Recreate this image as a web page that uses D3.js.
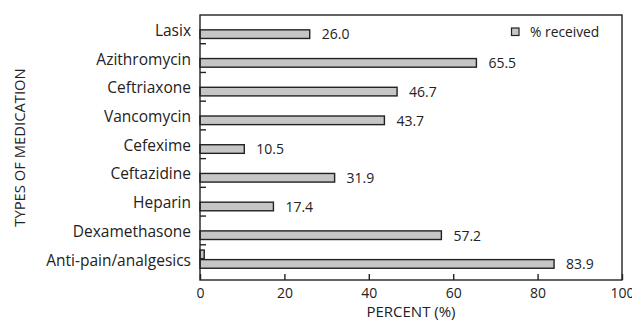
<!DOCTYPE html>
<html>
<head>
<meta charset="utf-8">
<script src="https://cdn.jsdelivr.net/npm/d3@7"></script>
<style>
  body { margin: 0; background: #fff; }
  text { font-family: "Open Sans", "Noto Sans", sans-serif; fill: #222; }
</style>
</head>
<body>
<svg id="chart" width="632" height="322"></svg>
<script>
// Data
const categories = ["Lasix", "Azithromycin", "Ceftriaxone", "Vancomycin", "Cefexime",
  "Ceftazidine", "Heparin", "Dexamethasone", "Anti-pain/analgesics"];
const receivedValues = [26.0, 65.5, 46.7, 43.7, 10.5, 31.9, 17.4, 57.2, 83.9];
const otherValues = [0, 0, 0, 0, 0, 0, 0, 0, 1.0];
const xTicks = [0, 20, 40, 60, 80, 100];
const seriesKeys = ["other", "received"];

const svg = d3.select("#chart"),
      margin = { top: 15, right: 10, bottom: 42, left: 200 },
      width = +svg.attr("width") - margin.left - margin.right,
      height = +svg.attr("height") - margin.top - margin.bottom;

const g = svg.append("g").attr("transform", `translate(${margin.left},${margin.top})`);

const rows = categories.map((c, i) => ({ name: c, other: otherValues[i], received: receivedValues[i] }));

// Scales
const x = d3.scaleLinear().domain([0, 100]).range([0, width]);

const y = d3.scaleBand()
  .domain(categories)
  .range([0, height - 6.5])
  .padding(0);

const ySub = d3.scaleBand()
  .domain(seriesKeys)
  .range([0, y.bandwidth()])
  .paddingInner(0.1)
  .paddingOuter(0.55);

// Bars
const groups = g.selectAll(".row")
  .data(rows)
  .join("g")
  .attr("transform", d => `translate(0,${y(d.name)})`);

groups.selectAll("rect")
  .data(d => seriesKeys.map(k => ({ key: k, value: d[k] })).filter(v => v.value > 0))
  .join("rect")
  .attr("x", x(0))
  .attr("y", d => ySub(d.key))
  .attr("width", d => x(d.value) - x(0))
  .attr("height", ySub.bandwidth())
  .attr("fill", "#c6c6c6")
  .attr("stroke", "#222")
  .attr("stroke-width", 1.4);

// Value labels
groups.append("text")
  .attr("x", d => x(d.received) + 12)
  .attr("y", ySub("received") + ySub.bandwidth() / 2)
  .attr("dy", "0.38em")
  .attr("font-size", "14px")
  .text(d => d3.format(".1f")(d.received));

// Frame
g.append("rect")
  .attr("width", width)
  .attr("height", height)
  .attr("fill", "none")
  .attr("stroke", "#222")
  .attr("stroke-width", 1.4);

// X axis (ticks point inward)
const xAxis = g.append("g")
  .attr("transform", `translate(0,${height})`)
  .call(d3.axisBottom(x).tickValues(xTicks).tickSizeInner(-6).tickSizeOuter(0).tickPadding(8));
xAxis.select(".domain").remove();
xAxis.selectAll("line").attr("stroke", "#222").attr("stroke-width", 1.4);
xAxis.selectAll("text").attr("font-size", "14px").attr("font-family", null);

// Y axis: category labels and boundary ticks
g.selectAll(".ylab")
  .data(categories)
  .join("text")
  .attr("x", -9)
  .attr("y", d => y(d) + y.bandwidth() / 2 + 1)
  .attr("dy", "0.35em")
  .attr("text-anchor", "end")
  .attr("font-size", "15.5px")
  .text(d => d);

g.selectAll(".ytick")
  .data(categories.slice(1))
  .join("line")
  .attr("x1", 0)
  .attr("x2", 6)
  .attr("y1", d => y(d))
  .attr("y2", d => y(d))
  .attr("stroke", "#222")
  .attr("stroke-width", 1.4);

// Axis titles
svg.append("text")
  .attr("x", margin.left + width / 2)
  .attr("y", 317)
  .attr("text-anchor", "middle")
  .attr("font-size", "15px")
  .text("PERCENT (%)");

svg.append("text")
  .attr("transform", `translate(24.5,${margin.top + height / 2}) rotate(-90)`)
  .attr("text-anchor", "middle")
  .attr("font-size", "14.8px")
  .text("TYPES OF MEDICATION");

// Legend
const legend = svg.append("g").attr("transform", "translate(511.5,28)");
legend.append("rect")
  .attr("width", 7.5)
  .attr("height", 7.5)
  .attr("fill", "#c6c6c6")
  .attr("stroke", "#222")
  .attr("stroke-width", 1.2);
legend.append("text")
  .attr("x", 18.5)
  .attr("y", 8.5)
  .attr("font-size", "13.8px")
  .text("% received");
</script>
</body>
</html>
